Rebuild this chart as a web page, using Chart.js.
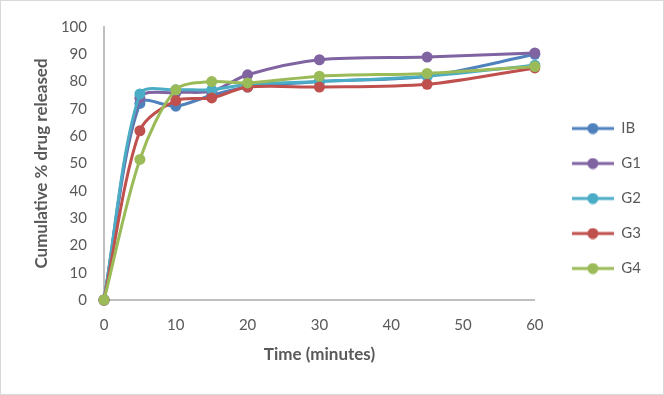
<!DOCTYPE html>
<html>
<head>
<meta charset="utf-8">
<script src="https://cdn.jsdelivr.net/npm/chart.js@4.4.1/dist/chart.umd.min.js"></script>
<style>
  html, body { margin: 0; padding: 0; background: #fff; }
  #wrap { width: 664px; height: 395px; box-sizing: border-box; border: 1px solid #d9d9d9; }
</style>
</head>
<body>
<div id="wrap"><canvas id="chart" width="662" height="393"></canvas></div>
<script>
// time points (minutes)
const times = [0, 5, 10, 15, 20, 30, 45, 60];

// cumulative % drug released
const ib = [0, 72, 71, 75, 78, 80, 82, 90];
const g1 = [0, 74, 76, 76.5, 82.5, 88, 89, 90.5];
const g2 = [0, 75.5, 77, 77, 79, 80, 82, 86];
const g3 = [0, 62, 73, 74, 78, 78, 79, 85];
const g4 = [0, 51.5, 77, 80, 79.5, 82, 83, 85.5];

const seriesNames = ["IB", "G1", "G2", "G3", "G4"];
const seriesValues = [ib, g1, g2, g3, g4];
const seriesColors = ["#4f81bd", "#8064a2", "#4bacc6", "#c0504d", "#9bbb59"];

const yTicks = [0, 10, 20, 30, 40, 50, 60, 70, 80, 90, 100];
const xTicks = [0, 10, 20, 30, 40, 50, 60];

const font = "Lato, 'Open Sans', sans-serif";
const grey = "#595959";

// little line+dot swatch for the legend
function swatch(color) {
  const c = document.createElement("canvas");
  c.width = 42; c.height = 12;
  const g = c.getContext("2d");
  g.strokeStyle = color; g.lineWidth = 3;
  g.beginPath(); g.moveTo(0, 6); g.lineTo(42, 6); g.stroke();
  g.fillStyle = color;
  g.beginPath(); g.arc(21, 6, 5.5, 0, Math.PI * 2); g.fill();
  return c;
}

const datasets = seriesNames.map((name, i) => ({
  label: name,
  data: times.map((t, j) => ({ x: t, y: seriesValues[i][j] })),
  borderColor: seriesColors[i],
  backgroundColor: seriesColors[i],
  borderWidth: 3,
  pointRadius: 5.5,
  pointHoverRadius: 5.5,
  pointBorderWidth: 0,
  pointStyle: "circle",
  tension: 0.3,
  clip: false,
  order: seriesNames.length - 1 - i,
  swatch: swatch(seriesColors[i])
}));

// push the legend a bit to the right, like the original
const legendShift = {
  id: "legendShift",
  afterLayout(chart) {
    chart.legend.left += 17;
    chart.legend.right += 17;
  }
};

const ctx = document.getElementById("chart").getContext("2d");
new Chart(ctx, {
  type: "line",
  data: { datasets: datasets },
  plugins: [legendShift],
  options: {
    responsive: false,
    animation: false,
    layout: { padding: { left: 24, top: 22, right: 29, bottom: 20 } },
    plugins: {
      tooltip: { enabled: false },
      legend: {
        position: "right",
        labels: {
          usePointStyle: true,
          pointStyleWidth: 42,
          padding: 20,
          color: grey,
          font: { family: font, size: 15 },
          generateLabels: chart => chart.data.datasets.map((ds, i) => ({
            text: ds.label,
            fillStyle: ds.borderColor,
            strokeStyle: ds.borderColor,
            fontColor: grey,
            lineWidth: 0,
            pointStyle: ds.swatch,
            hidden: false,
            datasetIndex: i
          }))
        }
      }
    },
    scales: {
      x: {
        type: "linear",
        min: 0,
        max: 60,
        afterBuildTicks: s => { s.ticks = xTicks.map(v => ({ value: v })); },
        afterFit: s => { s.height = 74; },
        grid: { display: false, drawTicks: false },
        border: { display: true, color: "#bfbfbf", width: 2 },
        ticks: { color: grey, padding: 16, font: { family: font, size: 15 } },
        title: {
          display: true,
          text: "Time (minutes)",
          color: grey,
          padding: { top: 8, bottom: 9 },
          font: { family: font, size: 17, weight: "bold" }
        }
      },
      y: {
        min: 0,
        max: 100,
        afterBuildTicks: s => { s.ticks = yTicks.map(v => ({ value: v })); },
        afterFit: s => { s.width = 79; },
        grid: { display: false, drawTicks: false },
        border: { display: true, color: "#bfbfbf", width: 2 },
        ticks: { color: grey, padding: 17, font: { family: font, size: 15 } },
        title: {
          display: true,
          text: "Cumulative % drug released",
          color: grey,
          padding: { top: 6, bottom: 8 },
          font: { family: font, size: 17, weight: "bold" }
        }
      }
    }
  }
});
</script>
</body>
</html>
